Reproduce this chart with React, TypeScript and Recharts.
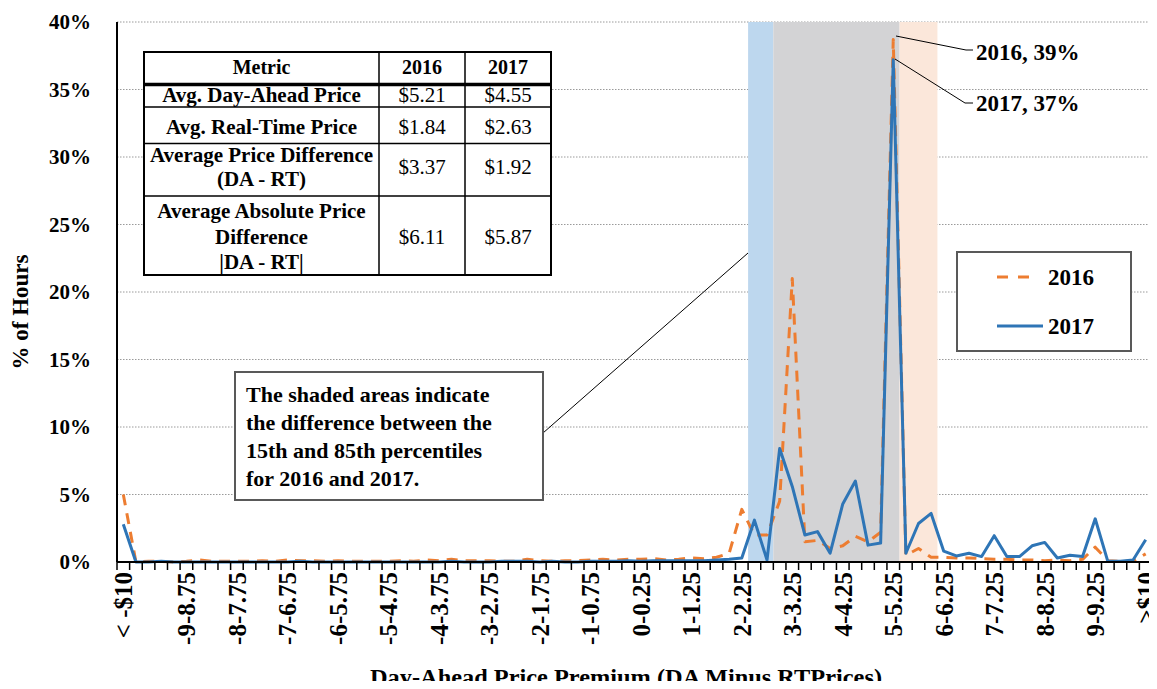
import React from 'react';
import { ComposedChart, Line, XAxis, YAxis, CartesianGrid, ReferenceArea } from 'recharts';

const FONT = '"Liberation Serif", "Times New Roman", serif';

const categories = [
  "< -$10",
  "-10-9.75", "-9.75-9.5", "-9.5-9.25", "-9.25-9",
  "-9-8.75", "-8.75-8.5", "-8.5-8.25", "-8.25-8",
  "-8-7.75", "-7.75-7.5", "-7.5-7.25", "-7.25-7",
  "-7-6.75", "-6.75-6.5", "-6.5-6.25", "-6.25-6",
  "-6-5.75", "-5.75-5.5", "-5.5-5.25", "-5.25-5",
  "-5-4.75", "-4.75-4.5", "-4.5-4.25", "-4.25-4",
  "-4-3.75", "-3.75-3.5", "-3.5-3.25", "-3.25-3",
  "-3-2.75", "-2.75-2.5", "-2.5-2.25", "-2.25-2",
  "-2-1.75", "-1.75-1.5", "-1.5-1.25", "-1.25-1",
  "-1-0.75", "-0.75-0.5", "-0.5-0.25", "-0.25-0",
  "0-0.25", "0.25-0.5", "0.5-0.75", "0.75-1",
  "1-1.25", "1.25-1.5", "1.5-1.75", "1.75-2",
  "2-2.25", "2.25-2.5", "2.5-2.75", "2.75-3",
  "3-3.25", "3.25-3.5", "3.5-3.75", "3.75-4",
  "4-4.25", "4.25-4.5", "4.5-4.75", "4.75-5",
  "5-5.25", "5.25-5.5", "5.5-5.75", "5.75-6",
  "6-6.25", "6.25-6.5", "6.5-6.75", "6.75-7",
  "7-7.25", "7.25-7.5", "7.5-7.75", "7.75-8",
  "8-8.25", "8.25-8.5", "8.5-8.75", "8.75-9",
  "9-9.25", "9.25-9.5", "9.5-9.75", "9.75-10",
  ">$10",
];

const shownLabels = [
  "< -$10", "-9-8.75", "-8-7.75", "-7-6.75", "-6-5.75", "-5-4.75", "-4-3.75",
  "-3-2.75", "-2-1.75", "-1-0.75", "0-0.25", "1-1.25", "2-2.25", "3-3.25",
  "4-4.25", "5-5.25", "6-6.25", "7-7.25", "8-8.25", "9-9.25", ">$10",
];

const pct2016 = [
  5.0, 0.0, 0.05, 0.05, 0.0, 0.05, 0.15, 0.05, 0.05, 0.05,
  0.05, 0.1, 0.05, 0.15, 0.1, 0.1, 0.05, 0.1, 0.05, 0.05,
  0.05, 0.05, 0.1, 0.05, 0.15, 0.1, 0.2, 0.1, 0.1, 0.1,
  0.05, 0.05, 0.2, 0.1, 0.05, 0.1, 0.1, 0.15, 0.2, 0.15,
  0.2, 0.2, 0.25, 0.15, 0.2, 0.3, 0.25, 0.35, 0.65, 3.9,
  2.0, 2.0, 4.5, 21.0, 1.5, 1.6, 1.0, 1.2, 1.9, 1.5,
  2.2, 38.7, 0.5, 1.0, 0.35, 0.35, 0.3, 0.3, 0.25, 0.2,
  0.2, 0.15, 0.15, 0.1, 0.15, 0.1, 0.2, 1.1, 0.1, 0.05,
  0.05, 0.6,
];

const pct2017 = [
  2.8, 0.0, 0.0, 0.05, 0.0, 0.0, 0.0, 0.0, 0.0, 0.0,
  0.0, 0.0, 0.0, 0.0, 0.05, 0.0, 0.0, 0.0, 0.0, 0.0,
  0.0, 0.0, 0.0, 0.0, 0.0, 0.0, 0.05, 0.0, 0.0, 0.0,
  0.05, 0.05, 0.05, 0.0, 0.05, 0.0, 0.0, 0.05, 0.05, 0.05,
  0.1, 0.05, 0.1, 0.1, 0.1, 0.1, 0.1, 0.15, 0.2, 0.3,
  3.1, 0.15, 8.4, 5.6, 2.0, 2.25, 0.65, 4.3, 6.0, 1.25,
  1.4, 37.2, 0.65, 2.85, 3.6, 0.8, 0.45, 0.65, 0.4, 1.95,
  0.4, 0.4, 1.2, 1.45, 0.3, 0.5, 0.4, 3.2, 0.05, 0.05,
  0.15, 1.65,
];

const yTicks = [0, 5, 10, 15, 20, 25, 30, 35, 40];

// shaded percentile bands (category ranges)
const band2016Only = ["2.25-2.5", "2.5-2.75"];
const bandOverlap = ["2.75-3", "5-5.25"];
const band2017Only = ["5.25-5.5", "5.75-6"];

const tableHeader = ["Metric", "2016", "2017"];
const tableMetrics = [
  ["Avg. Day-Ahead Price"],
  ["Avg. Real-Time Price"],
  ["Average Price Difference", "(DA - RT)"],
  ["Average Absolute Price", "Difference", "|DA - RT|"],
];
const table2016 = ["$5.21", "$1.84", "$3.37", "$6.11"];
const table2017 = ["$4.55", "$2.63", "$1.92", "$5.87"];

const noteLines = [
  "The shaded areas indicate",
  "the difference between the",
  "15th and 85th percentiles",
  "for 2016 and 2017.",
];

const data = categories.map((c, i) => ({ cat: c, y2016: pct2016[i], y2017: pct2017[i] }));

const ORANGE = '#ED7D31';
const BLUE = '#2E75B6';

const XTick = (props: any) => {
  const { x, y, payload, index } = props;
  const half = payload && typeof payload.offset === 'number' && payload.offset > 0 ? payload.offset : 6.31;
  const axisY = y - 10;
  const show = shownLabels.includes(payload.value);
  return (
    <g>
      <line x1={x - half} x2={x - half} y1={axisY} y2={axisY + 8} stroke="#000" strokeWidth={1.5} />
      {index === categories.length - 1 && (
        <line x1={x + half} x2={x + half} y1={axisY} y2={axisY + 8} stroke="#000" strokeWidth={1.5} />
      )}
      {show && (
        <text
          x={x}
          y={y}
          transform={`rotate(-90, ${x}, ${y})`}
          textAnchor="end"
          dy="0.36em"
          fontSize={25}
          fontWeight="bold"
          fontFamily={FONT}
          fill="#000"
        >
          {payload.value}
        </text>
      )}
    </g>
  );
};

const rowLines = [107, 143.5, 196];
const metricBaselines = [[101.5], [134], [162, 186], [218, 244, 269]];
const valueBaselines = [101.5, 134, 174, 244];

export default function App() {
  return (
    <div style={{ position: 'relative', width: 1157, height: 689, margin: -8, overflow: 'hidden', background: '#fff' }}>
      <div style={{ position: 'absolute', left: 0, top: 0 }}>
        <ComposedChart width={1157} height={689} data={data} margin={{ top: 22, right: 5, bottom: 0, left: 0 }}>
          <CartesianGrid vertical={false} stroke="#9a9a9a" strokeDasharray="1.5 1.5" />
          <ReferenceArea x1={band2016Only[0]} x2={band2016Only[1]} fill="#BDD7EE" fillOpacity={1} stroke="none" />
          <ReferenceArea x1={bandOverlap[0]} x2={bandOverlap[1]} fill="#D3D3D5" fillOpacity={1} stroke="none" />
          <ReferenceArea x1={band2017Only[0]} x2={band2017Only[1]} fill="#FBE7DA" fillOpacity={1} stroke="none" />
          <XAxis
            dataKey="cat"
            scale="band"
            interval={0}
            height={127}
            tickSize={8}
            tickMargin={2}
            tickLine={false}
            axisLine={{ stroke: '#000', strokeWidth: 2 }}
            tick={<XTick />}
          />
          <XAxis
            xAxisId="top"
            dataKey="cat"
            scale="band"
            orientation="top"
            height={0}
            tick={false}
            tickLine={false}
            axisLine={{ stroke: '#3a3a3a', strokeWidth: 2 }}
          />
          <YAxis
            domain={[0, 40]}
            ticks={yTicks}
            width={117}
            tickLine={false}
            tickMargin={20}
            axisLine={{ stroke: '#000', strokeWidth: 2 }}
            tickFormatter={(v: number) => `${v}%`}
            tick={{ fontSize: 21, fontWeight: 'bold', fontFamily: FONT, fill: '#000' }}
          />
          <YAxis
            yAxisId="right"
            orientation="right"
            domain={[0, 40]}
            width={0}
            tick={false}
            tickLine={false}
            axisLine={{ stroke: '#000', strokeWidth: 2 }}
          />
          <Line
            type="linear"
            dataKey="y2016"
            stroke={ORANGE}
            strokeWidth={3}
            strokeDasharray="11 8"
            strokeLinejoin="round"
            dot={false}
            isAnimationActive={false}
          />
          <Line
            type="linear"
            dataKey="y2017"
            stroke={BLUE}
            strokeWidth={3}
            strokeLinejoin="round"
            dot={false}
            isAnimationActive={false}
          />
        </ComposedChart>
      </div>
      <svg width={1157} height={689} style={{ position: 'absolute', left: 0, top: 0, pointerEvents: 'none' }} fontFamily={FONT}>
        {/* title (cut off at top) */}
        <text x={587} y={5} textAnchor="middle" fontSize={30} fontWeight="bold" fill="#000">2016 - 2017</text>
        {/* y label */}
        <text x={20} y={312} transform="rotate(-90, 20, 312)" textAnchor="middle" dy="0.35em" fontSize={23} fontWeight="bold" fill="#000">% of Hours</text>
        {/* x title */}
        <text x={626} y={685} textAnchor="middle" fontSize={23} fontWeight="bold" fill="#000" textLength={512} lengthAdjust="spacingAndGlyphs">Day-Ahead Price Premium (DA Minus RTPrices)</text>

        {/* table */}
        <rect x={144} y={52} width={407} height={223} fill="#fff" stroke="#000" strokeWidth={2} />
        <line x1={379} x2={379} y1={52} y2={275} stroke="#000" strokeWidth={1.5} />
        <line x1={465} x2={465} y1={52} y2={275} stroke="#000" strokeWidth={1.5} />
        <line x1={144} x2={551} y1={84.5} y2={84.5} stroke="#000" strokeWidth={3.5} />
        {rowLines.map((yy) => (
          <line key={yy} x1={144} x2={551} y1={yy} y2={yy} stroke="#000" strokeWidth={1.5} />
        ))}
        <text x={261.5} y={74} textAnchor="middle" fontSize={20} fontWeight="bold">{tableHeader[0]}</text>
        <text x={422} y={74} textAnchor="middle" fontSize={20} fontWeight="bold">{tableHeader[1]}</text>
        <text x={508} y={74} textAnchor="middle" fontSize={20} fontWeight="bold">{tableHeader[2]}</text>
        {tableMetrics.map((lines, r) =>
          lines.map((t, k) => (
            <text key={`${r}-${k}`} x={261.5} y={metricBaselines[r][k]} textAnchor="middle" fontSize={21} fontWeight="bold">{t}</text>
          ))
        )}
        {table2016.map((t, r) => (
          <text key={`a${r}`} x={422} y={valueBaselines[r]} textAnchor="middle" fontSize={21}>{t}</text>
        ))}
        {table2017.map((t, r) => (
          <text key={`b${r}`} x={508} y={valueBaselines[r]} textAnchor="middle" fontSize={21}>{t}</text>
        ))}

        {/* note box */}
        <line x1={543} y1={433} x2={748} y2={253} stroke="#000" strokeWidth={1} />
        <rect x={235} y={372} width={308} height={128} fill="#fff" stroke="#595959" strokeWidth={2} />
        {noteLines.map((t, i) => (
          <text key={t} x={246} y={402 + i * 28} fontSize={22} fontWeight="bold">{t}</text>
        ))}

        {/* callouts */}
        <polyline points="896,36 966,50 973,50" fill="none" stroke="#000" strokeWidth={1} />
        <polyline points="895,59 965,103 973,103" fill="none" stroke="#000" strokeWidth={1} />
        <text x={976} y={60} fontSize={23} fontWeight="bold">2016, 39%</text>
        <text x={976} y={111} fontSize={23} fontWeight="bold">2017, 37%</text>

        {/* legend */}
        <rect x={957} y={252} width={174} height={99} fill="#fff" stroke="#595959" strokeWidth={2} />
        <line x1={997} x2={1031} y1={277} y2={277} stroke={ORANGE} strokeWidth={3} strokeDasharray="11 10" />
        <line x1={997} x2={1043} y1={326} y2={326} stroke={BLUE} strokeWidth={3} />
        <text x={1048} y={285} fontSize={23} fontWeight="bold">2016</text>
        <text x={1048} y={334} fontSize={23} fontWeight="bold">2017</text>
      </svg>
    </div>
  );
}
